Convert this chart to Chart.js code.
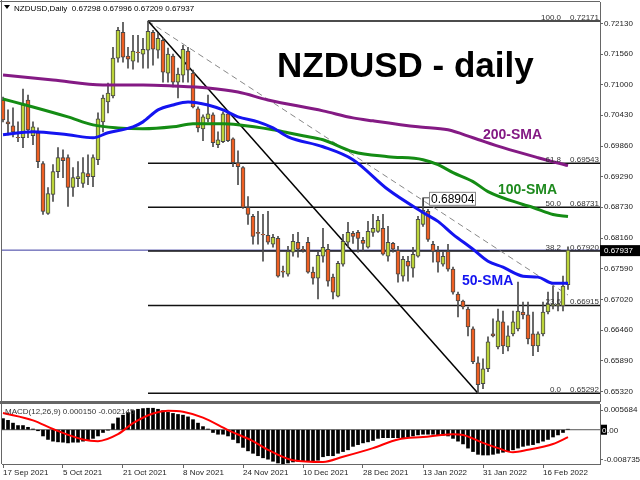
<!DOCTYPE html>
<html lang="en">
<head>
<meta charset="UTF-8">
<title>NZDUSD - daily</title>
<script src="https://cdn.jsdelivr.net/npm/chart.js"></script>
<style>
  body { margin: 0; background: #fff; }
  #wrap { position: relative; width: 640px; height: 480px; overflow: hidden; }
  #price { position: absolute; left: 0; top: 0; }
  #macd { position: absolute; left: 0; top: 403px; }
</style>
</head>
<body>
<div id="wrap">
  <canvas id="price" width="640" height="403"></canvas>
  <canvas id="macd" width="640" height="77"></canvas>
</div>
<script>
// Daily candles, 17 Sep 2021 .. 23 Feb 2022 (bar index 0..113)
const open = [0.70713,0.70308,0.70235,0.70023,0.70014,0.70713,0.70051,0.70106,0.69535,0.68615,
  0.68965,0.69388,0.69646,0.69646,0.69094,0.69260,0.69168,0.69352,0.69297,0.69609,
  0.70308,0.70676,0.70786,0.71486,0.71964,0.71523,0.71431,0.71596,0.71559,0.71633,
  0.71964,0.71633,0.71817,0.71210,0.71523,0.71044,0.71173,0.71615,0.71210,0.70547,
  0.70179,0.70363,0.70437,0.69885,0.69940,0.70455,0.69995,0.69553,0.69462,0.68726,
  0.68560,0.68266,0.68229,0.68211,0.68045,0.68155,0.67548,0.67493,0.67898,0.68082,
  0.67953,0.68082,0.67530,0.67420,0.67824,0.67953,0.67438,0.67088,0.67677,0.68082,
  0.68247,0.68266,0.68119,0.67990,0.68266,0.68284,0.68339,0.67824,0.68063,0.67935,
  0.67456,0.67732,0.67603,0.67824,0.68413,0.68652,0.68045,0.67916,0.67677,0.67916,
  0.67585,0.67125,0.66996,0.66849,0.66481,0.65855,0.65469,0.65745,0.66389,0.66150,
  0.66610,0.66150,0.66389,0.66481,0.66794,0.66739,0.66389,0.66168,0.66389,0.66794,
  0.66904,0.66904,0.66904,0.67298];
const high = [0.70768,0.70529,0.70566,0.70308,0.70915,0.70805,0.70308,0.70197,0.69572,0.69094,
  0.69517,0.69831,0.69793,0.69701,0.69462,0.69572,0.69646,0.69701,0.69701,0.70474,
  0.70805,0.71026,0.71688,0.72056,0.72148,0.71688,0.71909,0.71909,0.71854,0.72171,
  0.72001,0.71946,0.71854,0.71670,0.71559,0.71302,0.71725,0.71688,0.71265,0.70584,
  0.70437,0.70805,0.70474,0.70124,0.70492,0.70492,0.70014,0.69775,0.69480,0.68928,
  0.68597,0.68652,0.68597,0.68652,0.68229,0.68192,0.67640,0.68008,0.68229,0.68266,
  0.68008,0.68174,0.67622,0.67898,0.68339,0.68045,0.67493,0.67732,0.68229,0.68450,
  0.68284,0.68302,0.68174,0.68468,0.68597,0.68560,0.68597,0.68376,0.68082,0.68008,
  0.67824,0.67824,0.67990,0.68560,0.68904,0.68689,0.68100,0.68008,0.67898,0.68045,
  0.67622,0.67161,0.67015,0.66886,0.66518,0.65966,0.65929,0.66334,0.66665,0.66849,
  0.66812,0.66536,0.66812,0.67346,0.66978,0.66978,0.66794,0.66426,0.66978,0.67161,
  0.67272,0.67161,0.67456,0.67996];
const low = [0.70308,0.70069,0.70032,0.69940,0.69831,0.70014,0.69885,0.69462,0.68597,0.68597,
  0.68836,0.69278,0.69278,0.68744,0.68928,0.69112,0.69094,0.69149,0.69112,0.69517,
  0.70124,0.70474,0.70750,0.71412,0.71412,0.71302,0.71283,0.71412,0.71302,0.71302,
  0.71357,0.71486,0.71044,0.71044,0.70952,0.70750,0.71044,0.71044,0.70566,0.70124,
  0.69959,0.70308,0.69848,0.69831,0.69922,0.69940,0.69480,0.69149,0.68707,0.68413,
  0.68045,0.68045,0.67732,0.68045,0.67990,0.67438,0.67438,0.67456,0.67824,0.67806,
  0.67898,0.67512,0.67309,0.67033,0.67714,0.67272,0.67033,0.67070,0.67640,0.67990,
  0.68063,0.67898,0.67916,0.67971,0.68192,0.68266,0.67843,0.67732,0.67898,0.67346,
  0.67364,0.67364,0.67438,0.67806,0.68376,0.68100,0.67714,0.67530,0.67640,0.67548,
  0.67125,0.66702,0.66849,0.66352,0.65837,0.65292,0.65377,0.65690,0.66334,0.66113,
  0.66021,0.66076,0.66352,0.66444,0.66665,0.66205,0.65984,0.66058,0.66352,0.66757,
  0.66849,0.66812,0.66812,0.67209];
const close = [0.70345,0.70271,0.70124,0.70014,0.70621,0.70161,0.70216,0.69572,0.68652,0.68983,
  0.69388,0.69646,0.69591,0.69094,0.69278,0.69297,0.69370,0.69297,0.69646,0.70363,
  0.70750,0.70842,0.71486,0.72001,0.71504,0.71467,0.71615,0.71587,0.71651,0.71983,
  0.71651,0.71854,0.71228,0.71559,0.71044,0.71191,0.71651,0.71265,0.70584,0.70197,
  0.70400,0.70455,0.69922,0.69977,0.70455,0.69959,0.69553,0.69480,0.68726,0.68597,
  0.68192,0.68247,0.68220,0.68082,0.68174,0.67456,0.67530,0.67916,0.68100,0.67953,
  0.67944,0.67530,0.67420,0.67843,0.67990,0.67364,0.67161,0.67695,0.68100,0.68266,
  0.68192,0.68155,0.68063,0.68284,0.68339,0.68486,0.67861,0.68082,0.67953,0.67493,
  0.67769,0.67640,0.67861,0.68505,0.68671,0.68137,0.67916,0.67714,0.67824,0.67585,
  0.67161,0.66996,0.66886,0.66518,0.65874,0.65451,0.65745,0.66242,0.66352,0.66628,
  0.66168,0.66352,0.66610,0.66812,0.66739,0.66297,0.66168,0.66389,0.66794,0.66941,
  0.66941,0.66941,0.67272,0.67937];

// Moving averages (bar index -> value)
const sma50Idx = [0,6,13,18,21,26,28,31,34,37,41,44,47,51,54,57,64,70,77,84,87,90,94,97,100,104,107,110,113];
const sma50Val = [0.70069,0.70124,0.70069,0.70014,0.70106,0.70216,0.70308,0.70529,0.70621,0.70676,
  0.70621,0.70529,0.70400,0.70308,0.70197,0.70032,0.69848,0.69609,0.69057,0.68634,
  0.68468,0.68229,0.67953,0.67732,0.67622,0.67456,0.67438,0.67327,0.67327];
const sma100Idx = [0,6,13,18,23,28,34,38,44,47,54,57,60,64,70,77,84,87,90,94,97,104,106,110,113];
const sma100Val = [0.70731,0.70584,0.70400,0.70253,0.70197,0.70179,0.70216,0.70271,0.70271,0.70253,
  0.70161,0.70106,0.70051,0.69977,0.69756,0.69664,0.69609,0.69517,0.69370,0.69204,
  0.69020,0.68781,0.68726,0.68597,0.68560];
const sma200Idx = [0,10,20,28,34,41,47,53,64,70,74,83,89,94,100,107,113];
const sma200Val = [0.71173,0.71081,0.70989,0.70989,0.70971,0.70934,0.70860,0.70713,0.70511,0.70382,
  0.70327,0.70216,0.70161,0.70014,0.69831,0.69646,0.69499];

// Fibonacci retracement from the 0.72171 high (bar 29) to the 0.65292 low (bar 95)
const fibLevels = [100.0, 61.8, 50.0, 38.2, 23.6, 0.0];
const fibPrices = [0.72171, 0.69543, 0.68731, 0.67920, 0.66915, 0.65292];
const fibFrom = 29, fibLowBar = 95;
const dashEndBar = 113, dashEndPrice = 0.67107;
const markedBar = 84; // 0.68904 swing high

// MACD(12,26,9)
const macdHist = [0.0032,0.0027,0.0019,0.0012,0.0012,0.0007,0.0002,-0.0003,-0.0018,-0.0028,
  -0.0033,-0.0035,-0.0036,-0.0038,-0.0036,-0.0036,-0.0033,-0.0031,-0.0025,-0.0018,
  -0.0008,-0.0001,0.0017,0.0034,0.0042,0.0049,0.0055,0.0059,0.0061,0.0062,
  0.0062,0.0059,0.0055,0.0050,0.0047,0.0044,0.0042,0.0037,0.0029,0.0019,
  0.0009,0.0002,-0.0008,-0.0013,-0.0013,-0.0018,-0.0028,-0.0038,-0.0051,-0.0061,
  -0.0068,-0.0075,-0.0081,-0.0085,-0.0091,-0.0096,-0.0098,-0.0096,-0.0093,-0.0091,
  -0.0091,-0.0091,-0.0091,-0.0088,-0.0078,-0.0075,-0.0075,-0.0068,-0.0063,-0.0058,
  -0.0048,-0.0043,-0.0038,-0.0035,-0.0031,-0.0025,-0.0023,-0.0023,-0.0023,-0.0023,
  -0.0023,-0.0021,-0.0018,-0.0015,-0.0013,-0.0013,-0.0013,-0.0015,-0.0016,-0.0018,
  -0.0025,-0.0033,-0.0041,-0.0053,-0.0063,-0.0071,-0.0073,-0.0073,-0.0071,-0.0068,
  -0.0065,-0.0063,-0.0058,-0.0053,-0.0048,-0.0045,-0.0043,-0.0038,-0.0033,-0.0028,
  -0.0021,-0.0015,-0.0008,0.000150];
const signalIdx = [0,6,10,16,19,23,26,30,33,36,40,45,50,53,58,64,68,74,79,84,90,92,96,99,102,105,110,113];
const signalVal = [0.0048,0.0027,0.0002,-0.0028,-0.0033,-0.0013,0.0019,0.0047,0.0055,0.0052,
  0.0035,-0.0001,-0.0033,-0.0058,-0.0088,-0.0093,-0.0078,-0.0053,-0.0028,-0.0021,
  -0.0013,-0.0015,-0.0038,-0.0053,-0.0065,-0.0058,-0.0041,-0.002145];

// Axis ticks
const priceTicks = [0.72130,0.71560,0.71000,0.70430,0.69860,0.69290,0.68730,0.68160,0.67590,0.67020,0.66460,0.65890,0.65320];
const macdTicks = [0.005684, 0, -0.008735];
const dateIdx = [0,12,24,36,48,60,72,84,96,108];
const dateLabels = ['17 Sep 2021','5 Oct 2021','21 Oct 2021','8 Nov 2021','24 Nov 2021','10 Dec 2021','28 Dec 2021','13 Jan 2022','31 Jan 2022','16 Feb 2022'];

const xMin = -0.2, xMax = 119.4;
const yMin = 0.65148, yMax = 0.72524;
const mMin = -0.00989, mMax = 0.00742;

const BULL = '#bcd43a', BEAR = '#ee5f22';
const FONT = "'Liberation Sans', Arial, sans-serif";
Chart.defaults.font.family = FONT;

const last = close.length - 1;
const bid = close[last];
const idx = open.map((_, i) => i);
const pts = (xs, ys) => xs.map((x, k) => ({ x: x, y: ys[k] }));
const hline = (from, to, v) => [{ x: from, y: v }, { x: to, y: v }];

function fixSize(w, h) {
  return function (s) {
    if (w !== undefined) s.width = w;
    if (h !== undefined) s.height = h;
    s.paddingTop = 0; s.paddingBottom = 0; s.paddingLeft = 0; s.paddingRight = 0;
  };
}

const lineDs = (data, color, width, order, extra) => Object.assign({
  type: 'line', data: data, borderColor: color, borderWidth: width,
  pointRadius: 0, fill: false, order: order
}, extra || {});

// Texts and labels on the price panel
const priceDecor = {
  id: 'priceDecor',
  afterDraw(chart) {
    const ctx = chart.ctx, x = chart.scales.x, y = chart.scales.y;
    ctx.save();
    // frame
    ctx.strokeStyle = '#666';
    ctx.lineWidth = 1;
    ctx.beginPath();
    ctx.moveTo(0, 1.5); ctx.lineTo(600, 1.5);
    ctx.moveTo(1.5, 0); ctx.lineTo(1.5, 403);
    ctx.stroke();
    ctx.fillStyle = '#666';
    ctx.fillRect(0, 401, 600, 2);

    // header
    ctx.fillStyle = '#000';
    ctx.beginPath();
    ctx.moveTo(4, 5); ctx.lineTo(10, 5); ctx.lineTo(7, 9); ctx.closePath(); ctx.fill();
    ctx.font = '8px ' + FONT;
    ctx.textBaseline = 'alphabetic';
    ctx.fillText('NZDUSD,Daily  ' + [open[last], high[last], low[last], close[last]].map(v => v.toFixed(5)).join(' '), 14, 11);

    // title
    ctx.font = 'bold 35px ' + FONT;
    ctx.fillText('NZDUSD - daily', 277, 77);

    // SMA labels
    ctx.font = 'bold 14px ' + FONT;
    ctx.fillStyle = '#841a84'; ctx.fillText('200-SMA', 483, 139);
    ctx.fillStyle = '#1e8a1e'; ctx.fillText('100-SMA', 498, 194);
    ctx.fillStyle = '#1414f0'; ctx.fillText('50-SMA', 462, 285);

    // fib labels
    ctx.font = '8px ' + FONT;
    ctx.fillStyle = '#333';
    ctx.textAlign = 'right';
    fibLevels.forEach((lv, k) => {
      const py = y.getPixelForValue(fibPrices[k]) - 1;
      ctx.fillText(lv.toFixed(1), 561, py);
      ctx.fillText(fibPrices[k].toFixed(5), 599, py);
    });

    // swing-high price box
    const hx = x.getPixelForValue(markedBar), hy = y.getPixelForValue(high[markedBar]);
    ctx.strokeStyle = '#444';
    ctx.beginPath();
    ctx.moveTo(hx + 0.5, hy + 8); ctx.lineTo(hx + 0.5, hy); ctx.lineTo(hx + 6, hy);
    ctx.stroke();
    ctx.fillStyle = '#fff';
    ctx.fillRect(hx + 6, hy - 6, 47, 14);
    ctx.strokeStyle = '#888';
    ctx.strokeRect(hx + 6.5, hy - 5.5, 46, 13);
    ctx.fillStyle = '#000';
    ctx.textAlign = 'left';
    ctx.font = '12px ' + FONT;
    ctx.fillText(high[markedBar].toFixed(5), hx + 8, hy + 5);

    // bid price label
    const by = y.getPixelForValue(bid);
    ctx.fillStyle = '#000';
    ctx.fillRect(600, by - 5, 40, 11);
    ctx.fillStyle = '#fff';
    ctx.font = '8px ' + FONT;
    ctx.fillText(bid.toFixed(5), 604, by + 3);
    ctx.restore();
  }
};

new Chart(document.getElementById('price'), {
  type: 'bar',
  data: {
    datasets: [
      lineDs(hline(xMin, xMax, bid), '#3a3aa0', 1, 9),
      ...fibPrices.map(p => lineDs(hline(fibFrom, xMax, p), '#111', 1.5, 8)),
      lineDs([{ x: fibFrom, y: fibPrices[0] }, { x: fibLowBar, y: fibPrices[5] }], '#000', 1.5, 7),
      lineDs([{ x: fibFrom, y: fibPrices[0] }, { x: dashEndBar, y: dashEndPrice }], '#888', 1, 7, { borderDash: [6, 4] }),
      {
        label: 'wick', data: idx.map(i => ({ x: i, y: [low[i], high[i]] })),
        backgroundColor: '#4a4a4a', barThickness: 1, grouped: false, order: 5
      },
      {
        label: 'body', data: idx.map(i => ({ x: i, y: [Math.min(open[i], close[i]), Math.max(open[i], close[i])] })),
        backgroundColor: idx.map(i => close[i] >= open[i] ? BULL : BEAR),
        borderColor: '#484848', borderWidth: 1, borderSkipped: false,
        barThickness: 4, grouped: false, order: 4
      },
      lineDs(pts(sma200Idx, sma200Val), '#841a84', 3, 2, { cubicInterpolationMode: 'monotone' }),
      lineDs(pts(sma100Idx, sma100Val), '#148c14', 3, 1, { cubicInterpolationMode: 'monotone' }),
      lineDs(pts(sma50Idx, sma50Val), '#1414f0', 3, 0, { cubicInterpolationMode: 'monotone' })
    ]
  },
  options: {
    responsive: false, animation: false, devicePixelRatio: 1,
    layout: { padding: { left: 2, top: 2, right: 0, bottom: 2 } },
    plugins: { legend: { display: false }, tooltip: { enabled: false } },
    events: [],
    scales: {
      x: { type: 'linear', min: xMin, max: xMax, display: false, offset: false, grid: { offset: false } },
      y: {
        position: 'right', min: yMin, max: yMax, beginAtZero: false,
        afterFit: fixSize(40),
        afterBuildTicks: s => { s.ticks = priceTicks.map(v => ({ value: v })); },
        ticks: { font: { size: 8 }, color: '#222', padding: 1, callback: v => v.toFixed(5) },
        grid: { drawOnChartArea: false, tickLength: 3, color: '#666' },
        border: { color: '#666' }
      }
    }
  },
  plugins: [priceDecor]
});

const macdDecor = {
  id: 'macdDecor',
  afterDraw(chart) {
    const ctx = chart.ctx, y = chart.scales.y;
    ctx.save();
    ctx.strokeStyle = '#666';
    ctx.lineWidth = 1;
    ctx.beginPath();
    ctx.moveTo(0, 0.5); ctx.lineTo(600, 0.5);
    ctx.moveTo(1.5, 0); ctx.lineTo(1.5, 61);
    ctx.stroke();
    ctx.font = '8px ' + FONT;
    ctx.fillStyle = '#333';
    ctx.fillText('MACD(12,26,9) ' + macdHist[last].toFixed(6) + ' ' + signalVal[signalVal.length - 1].toFixed(6), 5, 11);
    const zy = y.getPixelForValue(0);
    ctx.fillStyle = '#000';
    ctx.fillRect(601, zy - 5, 6, 10);
    ctx.fillStyle = '#fff';
    ctx.fillText('0', 602, zy + 3);
    ctx.fillStyle = '#222';
    ctx.fillText('.00', 607, zy + 3);
    ctx.restore();
  }
};

new Chart(document.getElementById('macd'), {
  type: 'bar',
  data: {
    datasets: [
      lineDs(hline(xMin, xMax, 0), '#555', 1, 3),
      {
        label: 'MACD', data: idx.map(i => ({ x: i, y: macdHist[i] })),
        backgroundColor: '#000', barThickness: 3, grouped: false, order: 2
      },
      lineDs(pts(signalIdx, signalVal), '#ff0000', 2, 1, { cubicInterpolationMode: 'monotone' })
    ]
  },
  options: {
    responsive: false, animation: false, devicePixelRatio: 1,
    layout: { padding: { left: 2, top: 1, right: 0, bottom: 0 } },
    plugins: { legend: { display: false }, tooltip: { enabled: false } },
    events: [],
    scales: {
      x: {
        type: 'linear', min: xMin, max: xMax, offset: false,
        afterFit: fixSize(undefined, 16),
        afterBuildTicks: s => { s.ticks = dateIdx.map(v => ({ value: v })); },
        ticks: {
          autoSkip: false, maxRotation: 0, align: 'start', padding: 0,
          font: { size: 8 }, color: '#222',
          callback: v => dateLabels[dateIdx.indexOf(v)]
        },
        grid: { drawOnChartArea: false, tickLength: 4, color: '#666', offset: false },
        border: { color: '#666' }
      },
      y: {
        position: 'right', min: mMin, max: mMax, beginAtZero: false,
        afterFit: fixSize(40),
        afterBuildTicks: s => { s.ticks = macdTicks.map(v => ({ value: v })); },
        ticks: { font: { size: 8 }, color: '#222', padding: 1, callback: v => v === 0 ? '' : v.toFixed(6) },
        grid: { drawOnChartArea: false, tickLength: 3, color: '#666' },
        border: { color: '#666' }
      }
    }
  },
  plugins: [macdDecor]
});
</script>
</body>
</html>
